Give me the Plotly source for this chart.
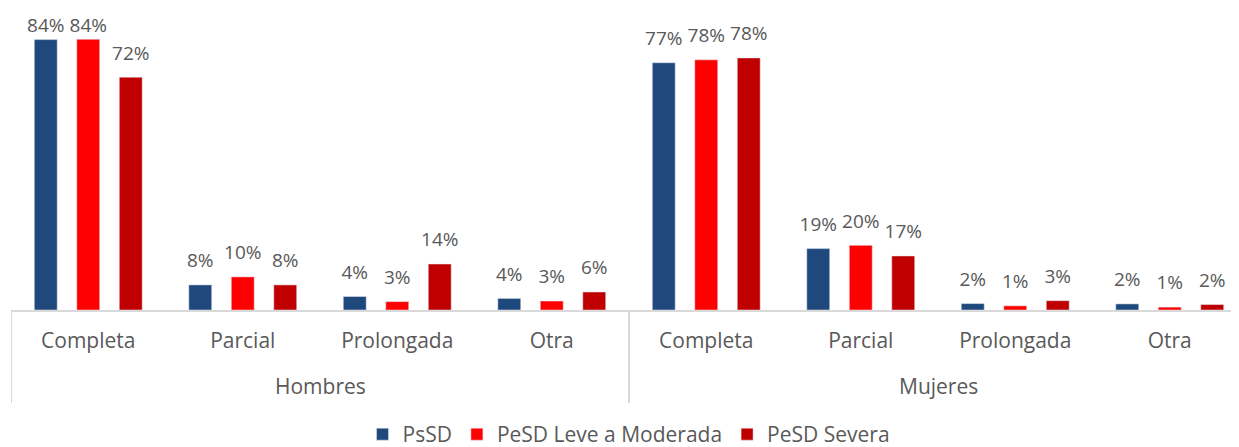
import plotly.graph_objects as go

grupos = ['Hombres'] * 4 + ['Mujeres'] * 4
tipos = ['Completa', 'Parcial', 'Prolongada', 'Otra'] * 2
claves = [g + ' ' + t for g, t in zip(grupos, tipos)]

psd = [84.1, 7.8, 4.2, 3.6, 76.9, 19.1, 2.0, 1.9]
pesd_leve = [84.2, 10.3, 2.6, 2.8, 77.8, 20.1, 1.3, 0.9]
pesd_severa = [72.4, 7.8, 14.3, 5.6, 78.4, 16.8, 2.9, 1.7]

series = [
    ('PsSD', psd, '#1F497D'),
    ('PeSD Leve a Moderada', pesd_leve, '#FF0000'),
    ('PeSD Severa', pesd_severa, '#C00000'),
]

gris = '#595959'
linea = '#D9D9D9'

fig = go.Figure()
for nombre, valores, color in series:
    fig.add_trace(go.Bar(
        name=nombre, x=claves, y=valores,
        marker={'color': color}, hoverinfo='y',
    ))
# etiquetas de datos como trazas de texto agrupadas igual que las barras
# (el marcador invisible da la separación; las más altas se pegan a la barra)
for nombre, valores, color in series:
    fig.add_trace(go.Scatter(
        x=claves, y=valores, mode='markers+text',
        text=[f'{v:.0f}%' for v in valores],
        textposition='top center',
        textfont={'size': 19, 'color': gris},
        marker={'size': [3 if v > 80 else 19 for v in valores], 'opacity': 0},
        cliponaxis=False, showlegend=False, hoverinfo='skip',
    ))

# etiquetas de grupo y divisores
for g in ['Hombres', 'Mujeres']:
    idx = [i for i, x in enumerate(grupos) if x == g]
    fig.add_annotation(x=(idx[0] + idx[-1]) / 2, y=-0.253, xref='x', yref='paper',
                       text=g, showarrow=False, yanchor='middle',
                       font={'size': 21, 'color': gris})
    fig.add_shape(type='line', xref='x', yref='paper',
                  x0=idx[0] - 0.5, x1=idx[0] - 0.5, y0=0, y1=-0.31,
                  line={'color': linea, 'width': 2})

# la página tiene 8px de margen en el body: se compensa en los márgenes
fig.update_layout(
    barmode='group',
    scattermode='group',
    bargap=0.175,
    scattergap=0.175,
    bargroupgap=0.46,
    plot_bgcolor='white',
    paper_bgcolor='white',
    font={'family': 'Open Sans', 'size': 21, 'color': gris},
    margin={'l': 3, 'r': 0, 't': 2, 'b': 153},
    width=1239, height=455,
    legend={'orientation': 'h', 'x': 0.5, 'xanchor': 'center',
            'y': -0.415, 'yanchor': 'middle', 'font': {'size': 21},
            'traceorder': 'normal'},
    xaxis={'type': 'category', 'range': [-0.5, 7.5], 'automargin': False,
           'showline': True, 'linecolor': linea, 'linewidth': 2,
           'tickvals': claves, 'ticktext': tipos, 'ticks': '',
           'ticklabelstandoff': 11, 'tickfont': {'size': 21, 'color': gris},
           'showgrid': False},
    yaxis={'range': [0, 93.3], 'visible': False, 'showgrid': False,
           'automargin': False},
)

fig.write_html('out.html')
